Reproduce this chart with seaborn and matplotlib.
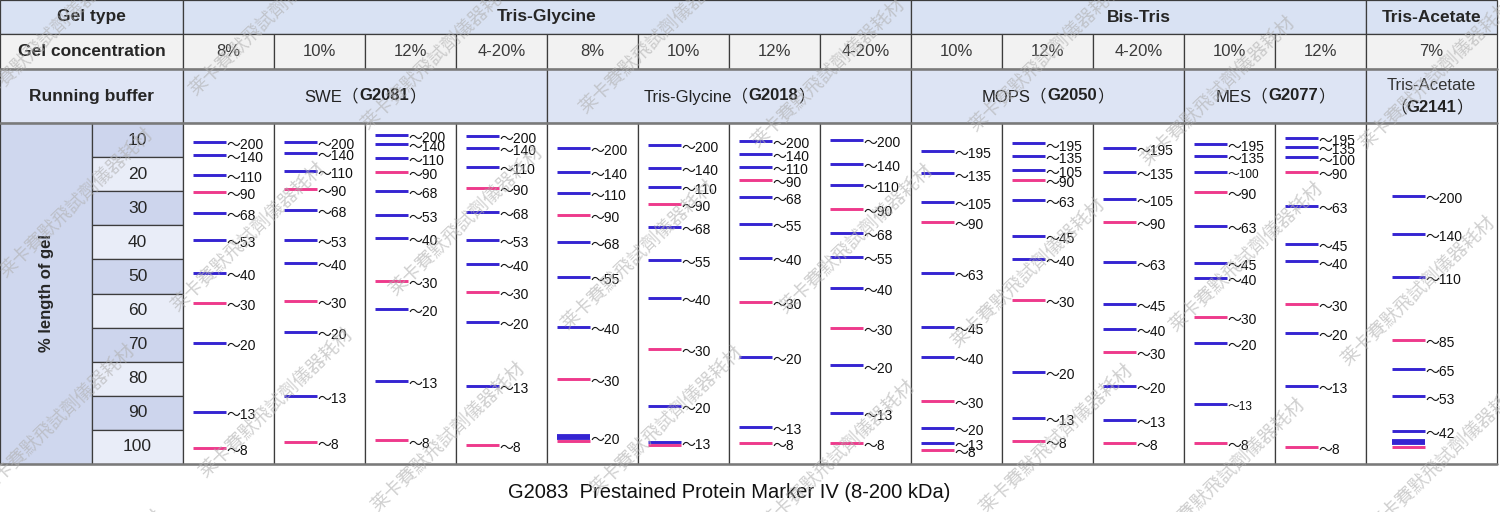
import matplotlib
matplotlib.use('Agg')
import numpy as np
import pandas as pd
import matplotlib.pyplot as plt
import seaborn as sns
from matplotlib.patches import Rectangle

# ---- table content ----
gel_types = ['Tris-Glycine', 'Bis-Tris', 'Tris-Acetate']
gel_type_lanes = [8, 5, 1]
concentrations = ['8%', '10%', '12%', '4-20%', '8%', '10%', '12%', '4-20%',
                  '10%', '12%', '4-20%', '10%', '12%', '7%']
buffer_names = ['SWE', 'Tris-Glycine', 'MOPS', 'MES', 'Tris-Acetate']
buffer_codes = ['G2081', 'G2018', 'G2050', 'G2077', 'G2141']
buffer_lanes = [4, 4, 3, 2, 1]
gel_rows = [10, 20, 30, 40, 50, 60, 70, 80, 90, 100]

# ---- marker sizes (kDa) ----
swe_kda = ['200', '140', '110', '90', '68', '53', '40', '30', '20', '13', '8']
tg_kda = ['200', '140', '110', '90', '68', '55', '40', '30', '20', '13', '8']
mops_kda = ['195', '135', '105', '90', '63', '45', '40', '30', '20', '13', '8']
mes_kda = ['195', '135', '100', '90', '63', '45', '40', '30', '20', '13', '8']
ta_kda = ['200', '140', '110', '85', '65', '53', '42', '']

# ---- band positions, % of gel length from the top ----
pos_swe_8 = [5.6, 9.3, 15.3, 20.1, 26.5, 34.4, 44.0, 52.9, 64.6, 84.8, 95.3]
pos_swe_10 = [5.6, 8.9, 14.1, 19.3, 25.6, 34.4, 41.0, 52.3, 61.3, 80.1, 93.5]
pos_swe_12 = [3.5, 6.2, 10.2, 14.3, 19.9, 27.1, 33.6, 46.2, 54.6, 75.7, 93.1]
pos_swe_420 = [3.7, 7.3, 13.0, 19.0, 26.1, 34.4, 41.3, 49.6, 58.4, 77.1, 94.4]
pos_tg_8 = [7.2, 14.3, 20.4, 26.9, 34.9, 45.2, 59.7, 75.1, 92.0]
pos_tg_10 = [6.5, 13.3, 18.7, 23.8, 30.6, 40.1, 51.4, 66.4, 82.9, 93.6]
pos_tg_12 = [5.2, 9.1, 13.0, 16.8, 21.8, 29.6, 39.5, 52.6, 68.5, 89.1, 93.9]
pos_tg_420 = [5.1, 11.9, 18.1, 25.1, 32.3, 39.4, 48.4, 60.2, 71.1, 85.1, 93.9]
pos_mops_10 = [8.1, 14.8, 23.1, 28.9, 44.0, 59.7, 68.7, 81.5, 89.4, 93.8, 95.9]
pos_mops_12 = [6.0, 9.6, 13.8, 16.8, 22.6, 33.1, 40.0, 52.0, 73.1, 86.5, 93.3]
pos_mops_420 = [7.3, 14.3, 22.3, 28.9, 40.9, 53.0, 60.3, 67.1, 77.0, 87.1, 93.7]
pos_mes_10 = [6.2, 9.6, 14.3, 20.1, 30.3, 41.1, 45.5, 56.8, 64.5, 82.4, 93.9]
pos_mes_12 = [4.5, 7.0, 10.1, 14.3, 24.4, 35.5, 40.6, 53.2, 61.7, 77.2, 95.0]
pos_ta_7 = [21.3, 32.6, 45.2, 63.5, 72.2, 80.2, 90.4, 93.6]

lane_kda = [swe_kda, swe_kda, swe_kda, swe_kda, tg_kda[:9], tg_kda[:10], tg_kda, tg_kda,
            mops_kda, mops_kda, mops_kda, mes_kda, mes_kda, ta_kda]
lane_pos = [pos_swe_8, pos_swe_10, pos_swe_12, pos_swe_420, pos_tg_8, pos_tg_10, pos_tg_12,
            pos_tg_420, pos_mops_10, pos_mops_12, pos_mops_420, pos_mes_10, pos_mes_12, pos_ta_7]

pink_kda = ['90', '30', '8', '85']
front_lane = [4, 5, 13]          # pink dye front stacked under the last band
front_pos = [93.2, 94.4, 94.9]
thick_bands = [(4, '20'), (13, '')]
small_labels = [(11, '100'), (11, '13')]

# ---- layout (pixels) ----
W, H = 1500, 512
row_y = [0, 34, 69, 123]
gel_bottom = 464
split_x = 92
lane0 = 183
lane_w = [91] * 13 + [131]
lane_x = np.concatenate([[lane0], lane0 + np.cumsum(lane_w)])

BLUE = '#3524d2'
PINK = '#ee3a8c'
EDGE = '#3c3c3c'
FAM = ['Liberation Sans', 'Noto Sans CJK SC']

sns.set_theme(style='white')
plt.rcParams['font.family'] = FAM

fig = plt.figure(figsize=(W / 100, H / 100), dpi=100)
ax = fig.add_axes([0, 0, 1, 1])
ax.set_xlim(0, W)
ax.set_ylim(H, 0)
ax.set_axis_off()
renderer = fig.canvas.get_renderer()


def cell(x0, x1, y0, y1, color):
    ax.add_patch(Rectangle((x0, y0), x1 - x0, y1 - y0, facecolor=color,
                           edgecolor=EDGE, linewidth=0.9, zorder=1))


def mixed(x, y, parts, size, color='#222222'):
    texts = [ax.text(0, y, s, fontsize=size, fontweight=w, color=color,
                     va='center', ha='left', zorder=5) for s, w in parts]
    widths = [t.get_window_extent(renderer).width for t in texts]
    cur = x - sum(widths) / 2
    for t, wd in zip(texts, widths):
        t.set_x(cur)
        cur += wd


# header row 1: gel type
cell(0, lane0, row_y[0], row_y[1], '#d9e2f3')
ax.text(lane0 / 2, (row_y[0] + row_y[1]) / 2, 'Gel type', fontsize=12.5,
        fontweight='bold', ha='center', va='center', zorder=5)
i = 0
for name, n in zip(gel_types, gel_type_lanes):
    cell(lane_x[i], lane_x[i + n], row_y[0], row_y[1], '#d9e2f3')
    ax.text((lane_x[i] + lane_x[i + n]) / 2, (row_y[0] + row_y[1]) / 2, name,
            fontsize=12.5, fontweight='bold', ha='center', va='center', zorder=5)
    i += n

# header row 2: concentration
cell(0, lane0, row_y[1], row_y[2], '#f2f2f2')
ax.text(lane0 / 2, (row_y[1] + row_y[2]) / 2, 'Gel concentration', fontsize=12.5,
        fontweight='bold', ha='center', va='center', zorder=5)
for j, c in enumerate(concentrations):
    cell(lane_x[j], lane_x[j + 1], row_y[1], row_y[2], '#f2f2f2')
    ax.text((lane_x[j] + lane_x[j + 1]) / 2, (row_y[1] + row_y[2]) / 2, c,
            fontsize=12, color='#3a3a3a', ha='center', va='center', zorder=5)

# header row 3: running buffer
cell(0, lane0, row_y[2], row_y[3], '#dfe5f5')
ax.text(lane0 / 2, (row_y[2] + row_y[3]) / 2, 'Running buffer', fontsize=12.5,
        fontweight='bold', ha='center', va='center', zorder=5)
i = 0
for name, code, n in zip(buffer_names, buffer_codes, buffer_lanes):
    x0, x1 = lane_x[i], lane_x[i + n]
    cell(x0, x1, row_y[2], row_y[3], '#dde4f4')
    ym = (row_y[2] + row_y[3]) / 2
    if n == 1:
        ax.text((x0 + x1) / 2, ym - 11, name, fontsize=12, color='#333333',
                ha='center', va='center', zorder=5)
        mixed((x0 + x1) / 2, ym + 11, [('（', 'normal'), (code, 'bold'), ('）', 'normal')], 12)
    else:
        mixed((x0 + x1) / 2, ym, [(name + '（', 'normal'), (code, 'bold'), ('）', 'normal')], 12)
    i += n

# gel area: left labels
cell(0, split_x, row_y[3], gel_bottom, '#cfd7ee')
ax.text(split_x / 2, (row_y[3] + gel_bottom) / 2, '% length of gel', fontsize=12,
        fontweight='bold', rotation=90, ha='center', va='center', zorder=5)
row_h = (gel_bottom - row_y[3]) / len(gel_rows)
for k, r in enumerate(gel_rows):
    y0 = row_y[3] + k * row_h
    cell(split_x, lane0, y0, y0 + row_h, '#cdd5ed' if k % 2 == 0 else '#e9edf8')
    ax.text((split_x + lane0) / 2, y0 + row_h / 2, str(r), fontsize=12.5,
            ha='center', va='center', zorder=5)
for j in range(len(lane_w)):
    cell(lane_x[j], lane_x[j + 1], row_y[3], gel_bottom, 'white')

for yy in [row_y[2], row_y[3], gel_bottom]:
    ax.plot([0, lane_x[-1]], [yy, yy], color='#7a7a7a', linewidth=1.8, zorder=3)

# ---- bands ----
rows = []
for j, (kdas, poss) in enumerate(zip(lane_kda, lane_pos)):
    bx = lane_x[j] + 26 + 0.4 * (lane_w[j] - 91)
    for kda, p in zip(kdas, poss):
        rows.append({'lane': j, 'x': bx, 'pct': p, 'kda': kda,
                     'dye': 'pink' if kda in pink_kda else 'blue',
                     'thick': (j, kda) in thick_bands})
for j, p in zip(front_lane, front_pos):
    bx = lane_x[j] + 26 + 0.4 * (lane_w[j] - 91)
    rows.append({'lane': j, 'x': bx, 'pct': p, 'kda': '', 'dye': 'pink', 'thick': False})
bands = pd.DataFrame(rows)

gax = fig.add_axes([lane0 / W, (H - gel_bottom) / H,
                    (lane_x[-1] - lane0) / W, (gel_bottom - row_y[3]) / H])
gax.set_xlim(lane0, lane_x[-1])
gax.set_ylim(100, 0)
gax.set_axis_off()

palette = {'blue': BLUE, 'pink': PINK}
band_len = (33 * 0.72) ** 2
sns.scatterplot(data=bands[~bands['thick']], x='x', y='pct', hue='dye', palette=palette,
                marker='_', s=band_len, linewidth=2.1, legend=False, ax=gax, zorder=4)
sns.scatterplot(data=bands[bands['thick']], x='x', y='pct', hue='dye', palette=palette,
                marker='_', s=band_len, linewidth=4.2, legend=False, ax=gax, zorder=5)

for _, b in bands[bands['kda'] != ''].iterrows():
    size = 8.5 if (b['lane'], b['kda']) in small_labels else 10
    gax.text(b['x'] + 17.5, b['pct'] + 0.9, '～' + b['kda'], fontsize=size,
             color='#111111', ha='left', va='center', zorder=6)

# ---- title ----
ax.text(729, 493, 'G2083  Prestained Protein Marker IV (8-200 kDa)', fontsize=14.5,
        color='#111111', ha='center', va='center', zorder=5)

# ---- watermark ----
wm = '莱卡賽默飛試劑儀器耗材'
for r in range(-1, 4):
    for k in range(-1, 5):
        for p in range(2):
            sx = 196 - 190 * r + 390 * k + 172 * p
            sy = 97 + 182 * r + 18 * k + 34 * p
            if -220 < sx < W and 0 < sy < H + 200:
                fig.text(sx / W, 1 - sy / H, wm, fontsize=13.5, color='#b0b0b0', alpha=0.6,
                         rotation=44, rotation_mode='anchor', ha='left', va='baseline',
                         family=['Noto Sans CJK SC'], zorder=10)

fig.savefig('out.png', dpi=100)
